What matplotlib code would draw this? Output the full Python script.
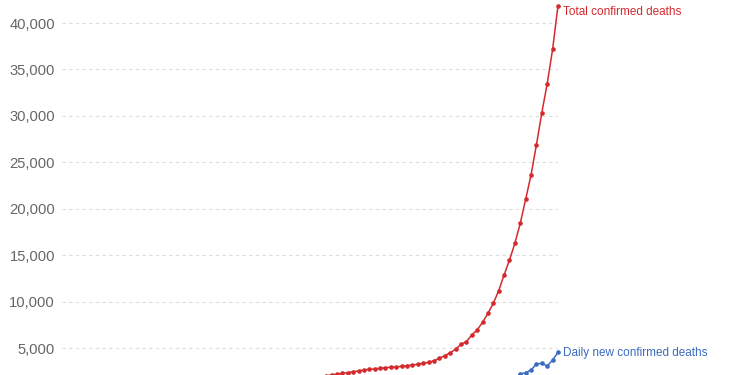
import numpy as np
import matplotlib
matplotlib.use("Agg")
import matplotlib.pyplot as plt
from matplotlib.ticker import FuncFormatter

plt.rcParams['font.family'] = ['Liberation Sans', 'DejaVu Sans']

# daily series from 31 Dec 2019 (day 0) to 31 Mar 2020 (day 92)
total_deaths = [
    0, 0, 0, 0, 0, 0, 0, 0, 0, 0,
    0, 1, 1, 1, 1, 1, 2, 2, 3, 3,
    4, 6, 17, 18, 26, 42, 56, 82, 131, 133,
    171, 213, 259, 304, 362, 426, 492, 564, 634, 719,
    806, 906, 1013, 1113, 1371, 1523, 1666, 1770, 1868, 2007,
    2122, 2175, 2280, 2350, 2460, 2530, 2640, 2710, 2750, 2820,
    2890, 2930, 2960, 3040, 3100, 3180, 3250, 3360, 3470, 3640,
    3900, 4180, 4500, 4870, 5400, 5690, 6400, 6950, 7770, 8740,
    9820, 11180, 12870, 14480, 16280, 18440, 21020, 23640, 26900, 30350,
    33470, 37175, 41880,
]
daily_deaths = [
    0, 0, 0, 0, 0, 0, 0, 0, 0, 0,
    0, 1, 0, 0, 0, 0, 1, 0, 1, 0,
    1, 2, 11, 1, 8, 16, 14, 26, 49, 2,
    38, 42, 46, 45, 58, 64, 66, 72, 70, 85,
    87, 100, 107, 100, 258, 152, 143, 104, 98, 139,
    115, 118, 109, 97, 150, 71, 64, 37, 58, 67,
    72, 86, 56, 83, 98, 108, 102, 110, 110, 170,
    260, 280, 320, 370, 450, 500, 620, 700, 800, 950,
    1050, 1350, 1650, 1650, 1800, 2200, 2350, 2640, 3280, 3360,
    3070, 3715, 4540,
]
yticks = [5000, 10000, 15000, 20000, 25000, 30000, 35000, 40000]

red = '#d42a2e'
blue = '#3b6cc0'
days = np.arange(len(total_deaths))

fig = plt.figure(figsize=(7.5, 3.75), dpi=100)
ax = fig.add_axes([62 / 750, 0, (558 - 62) / 750, 1])

ax.plot(days, total_deaths, color=red, lw=1.1, marker='o', ms=2.3,
        clip_on=False, zorder=3)
ax.plot(days, daily_deaths, color=blue, lw=1.1, marker='o', ms=2.3,
        clip_on=False, zorder=3)

ax.text(days[-1] + 0.9, total_deaths[-1] - 80, 'Total confirmed deaths',
        color=red, fontsize=8.5, va='top', ha='left')
ax.text(days[-1] + 0.9, daily_deaths[-1] - 80, 'Daily new confirmed deaths',
        color=blue, fontsize=8.5, va='center', ha='left')

ax.set_xlim(0, days[-1])
ax.set_ylim(2100, 42484)
ax.set_yticks(yticks)
ax.yaxis.set_major_formatter(FuncFormatter(lambda v, p: f'{int(v):,}'))
ax.tick_params(axis='y', length=0, pad=5, labelsize=10.6, labelcolor='#666666')
ax.set_xticks([])
ax.grid(axis='y', color='#dddddd', linestyle=(0, (3, 3)), lw=0.8)
for s in ax.spines.values():
    s.set_visible(False)

fig.savefig('out.png', dpi=100)
